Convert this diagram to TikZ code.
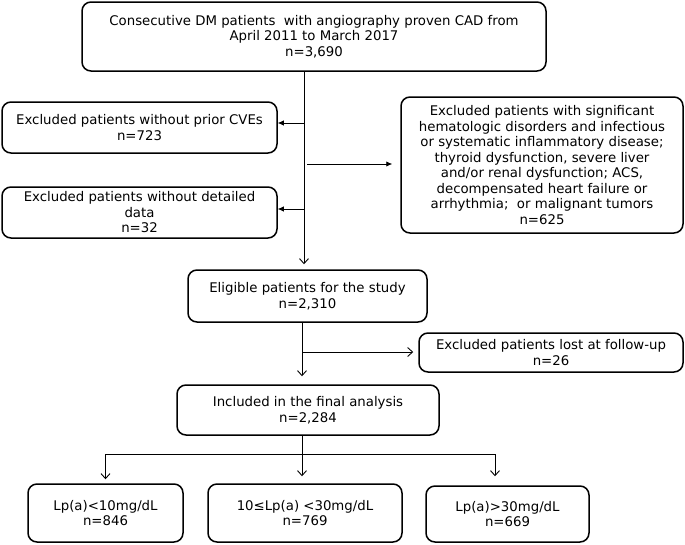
\documentclass[tikz,border=0pt]{standalone}
\usepackage{fontspec}
\setmainfont{DejaVu Sans}
\usetikzlibrary{arrows.meta,calc}
\begin{document}
\begin{tikzpicture}[x=1pt,y=-1pt,
  box/.style={draw, line width=1.5pt, rounded corners=9pt, align=center, inner sep=0pt,
    font=\fontsize{13.3}{15.5}\selectfont},
  conn/.style={line width=0.9pt},
  fillarrow/.style={conn,-{Latex[length=6pt,width=5.5pt]}},
  openarrow/.style={conn,-{Straight Barb[length=5pt,width=9pt]}}]
\useasboundingbox (0,0) rectangle (685,544);
\node[box, minimum width=464pt, minimum height=69pt] (top) at (314,36.5)
  {Consecutive DM patients \ with angiography proven CAD from\\April 2011 to March 2017\\n=3,690};
\node[box, minimum width=275pt, minimum height=51pt] (cve) at (139.5,127.5)
  {Excluded patients without prior CVEs\\n=723};
\node[box, minimum width=275pt, minimum height=51pt] (data) at (139.5,212.5)
  {Excluded patients without detailed\\data\\n=32};
\node[box, minimum width=282pt, minimum height=136pt] (right) at (542,165)
  {Excluded patients with significant\\hematologic disorders and infectious\\or systematic inflammatory disease;\\thyroid dysfunction, severe liver\\and/or renal dysfunction; ACS,\\decompensated heart failure or\\arrhythmia; \ or malignant tumors\\n=625};
\node[box, minimum width=239pt, minimum height=52pt] (elig) at (307.5,296)
  {Eligible patients for the study\\n=2,310};
\node[box, minimum width=264pt, minimum height=39pt] (lost) at (551,352.5)
  {Excluded patients lost at follow-up\\n=26};
\node[box, minimum width=262pt, minimum height=50pt] (incl) at (308,410)
  {Included in the final analysis\\n=2,284};
\node[box, minimum width=155pt, minimum height=58pt] (lpa) at (105.5,513)
  {Lp(a)<10mg/dL\\n=846};
\node[box, minimum width=194pt, minimum height=58pt] (lpb) at (305,513)
  {10≤Lp(a) <30mg/dL\\n=769};
\node[box, minimum width=163pt, minimum height=56pt] (lpc) at (507.5,514)
  {Lp(a)>30mg/dL\\n=669};
% main trunk
\coordinate (m) at (304,0);
\coordinate (a1) at (304,123);
\coordinate (a2) at (304,209);
\coordinate (a3) at (307,164);
\draw[openarrow, shorten >=5pt] (top.south -| m) -- (elig.north -| m);
\draw[fillarrow] (a1) -- (a1 -| cve.east);
\draw[fillarrow] (a2) -- (a2 -| data.east);
\draw[fillarrow, shorten >=8pt] (a3) -- (a3 -| right.west);
% second trunk
\coordinate (n) at (302,0);
\coordinate (b1) at (302,352);
\draw[openarrow, shorten >=8pt] (elig.south -| n) -- (incl.north -| n);
\draw[openarrow, shorten >=5pt] (b1) -- (b1 -| lost.west);
% branches
\coordinate (h) at (0,454);
\coordinate (r) at (495,0);
\draw[conn] (incl.south -| n) -- (h -| n);
\draw[conn] (h -| lpa) -- (h -| r);
\draw[openarrow, shorten >=4pt] (h -| lpa) -- (lpa.north);
\draw[openarrow, shorten >=7pt] (h -| n) -- (lpb.north -| n);
\draw[openarrow, shorten >=9pt] (h -| r) -- (lpc.north -| r);
\end{tikzpicture}
\end{document}
